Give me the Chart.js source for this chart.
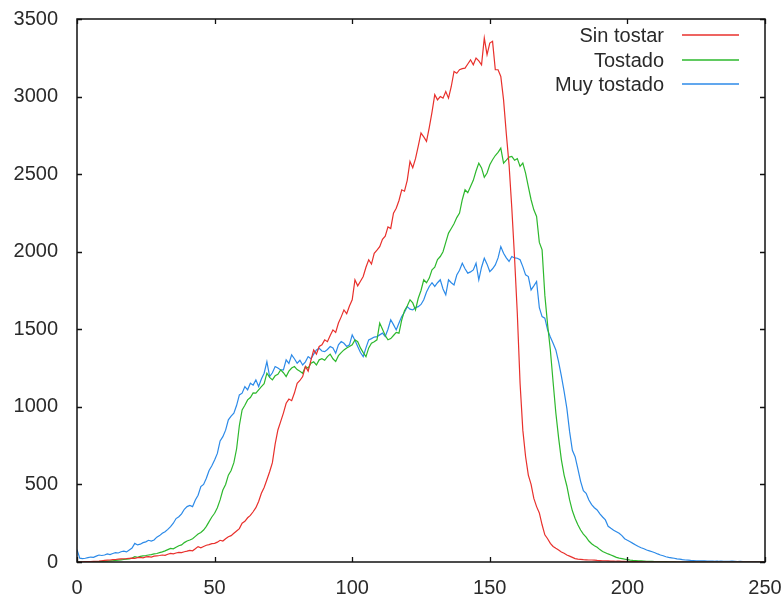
<!DOCTYPE html>
<html>
<head>
<meta charset="utf-8">
<script src="https://cdn.jsdelivr.net/npm/chart.js@4.4.0/dist/chart.umd.min.js"></script>
<style>
  html, body { margin: 0; padding: 0; background: #fff; }
  #wrap { width: 783px; height: 597px; }
</style>
</head>
<body>
<div id="wrap"><canvas id="histChart" width="783" height="597"></canvas></div>
<script>
// Histogram counts per intensity level (0..250)
const sinTostar = [
  0,0,1,2,2,3,4,5,6,8,
  10,12,13,15,16,18,20,21,22,24,
  25,24,28,30,27,33,35,32,38,40,
  42,45,43,50,56,52,58,62,60,66,
  70,75,72,85,99,92,100,108,112,118,
  120,128,140,135,150,163,170,185,200,215,
  250,262,285,300,324,350,390,443,480,530,
  582,640,760,851,905,960,1023,1050,1040,1089,
  1152,1170,1195,1260,1230,1300,1367,1340,1389,1400,
  1432,1420,1460,1496,1480,1540,1580,1625,1600,1650,
  1690,1819,1780,1810,1840,1900,1948,1920,1990,2010,
  2033,2080,2100,2160,2150,2249,2280,2330,2399,2390,
  2460,2582,2541,2600,2680,2765,2740,2711,2800,2900,
  3012,2979,3000,2990,3033,2990,3065,3162,3150,3173,
  3180,3183,3210,3237,3205,3248,3230,3205,3377,3270,
  3345,3356,3173,3173,3130,2979,2760,2560,2280,1960,
  1600,1152,850,680,560,500,410,357,316,240,
  175,150,120,100,88,77,65,56,45,38,
  30,22,19,17,15,14,13,13,12,10,
  9,8,8,7,6,6,5,5,4,4,
  3,3,2,2,2,1,1,1,0,0,
  0,0,0,0,0,0,0,0,0,0,
  0,0,0,0,0,0,0,0,0,0,
  0,0,0,0,0,0,0,0,0,0,
  0,0,0,0,0,0,0,0,0,0,
  0
];

const tostado = [
  0,0,0,1,1,2,2,3,3,4,
  5,6,7,8,10,12,14,16,18,20,
  25,34,30,36,40,42,45,48,52,55,
  60,65,72,80,88,85,95,105,110,125,
  135,142,150,165,180,190,206,230,260,290,
  314,350,400,464,500,560,590,640,730,880,
  980,1010,1045,1060,1090,1088,1110,1131,1150,1217,
  1190,1174,1200,1210,1238,1220,1195,1230,1250,1260,
  1240,1230,1217,1260,1250,1281,1290,1270,1303,1310,
  1300,1324,1340,1310,1292,1330,1350,1367,1380,1389,
  1400,1432,1420,1380,1350,1324,1380,1410,1420,1432,
  1540,1500,1460,1432,1440,1460,1480,1475,1560,1620,
  1650,1690,1670,1625,1700,1750,1819,1800,1830,1883,
  1900,1950,1969,2000,2060,2120,2150,2180,2220,2249,
  2335,2399,2380,2420,2460,2520,2571,2540,2480,2507,
  2560,2593,2620,2640,2668,2571,2590,2610,2614,2590,
  2600,2550,2571,2507,2420,2335,2270,2227,2060,2012,
  1720,1530,1367,1160,960,800,660,560,490,400,
  330,280,240,206,180,160,135,118,105,95,
  80,68,60,52,45,38,30,25,22,18,
  15,12,10,9,8,7,6,5,4,4,
  3,3,2,2,2,1,1,1,0,0,
  0,0,0,0,0,0,0,0,0,0,
  0,0,0,0,0,0,0,0,0,0,
  0,0,0,0,0,0,0,0,0,0,
  0
];

const muyTostado = [
  80,25,22,24,28,32,30,38,45,42,
  45,52,48,55,60,58,66,70,65,78,
  90,120,110,115,125,130,140,135,142,160,
  170,185,195,210,228,250,280,292,310,340,
  357,365,357,400,430,486,500,540,590,620,
  658,700,780,808,850,916,940,959,1010,1077,
  1088,1131,1110,1152,1140,1174,1131,1180,1217,1292,
  1195,1220,1260,1250,1238,1238,1303,1280,1335,1310,
  1281,1300,1270,1290,1324,1310,1340,1367,1378,1360,
  1356,1370,1389,1380,1346,1400,1421,1410,1389,1400,
  1464,1430,1389,1350,1324,1380,1432,1440,1450,1453,
  1464,1475,1453,1500,1561,1530,1496,1540,1582,1610,
  1646,1630,1625,1640,1646,1660,1690,1740,1776,1800,
  1776,1800,1819,1760,1722,1819,1800,1786,1850,1880,
  1926,1890,1862,1870,1883,1926,1819,1900,1958,1920,
  1872,1890,1915,1960,2033,1990,1960,1937,1969,1960,
  1958,1948,1904,1851,1840,1754,1780,1808,1640,1582,
  1572,1496,1450,1410,1367,1290,1200,1100,990,840,
  720,679,600,520,460,443,400,370,350,335,
  310,290,271,230,217,205,195,185,170,150,
  140,131,120,110,100,92,85,77,72,66,
  60,52,45,40,34,30,27,24,20,18,
  15,13,12,10,9,8,8,7,7,6,
  6,6,5,5,6,5,4,4,5,4,
  3,4,3,3,2,3,2,2,1,2,
  1
];

const seriesNames = ['Sin tostar', 'Tostado', 'Muy tostado'];
const seriesColors = ['#e8302c', '#2db82d', '#2c8ae8'];
const xTicks = [0, 50, 100, 150, 200, 250];
const yTicks = [0, 500, 1000, 1500, 2000, 2500, 3000, 3500];

const textColor = '#2a2a2a';
const fontFamily = '"Liberation Sans", Arial, sans-serif';

function toPoints(values) {
  return values.map((v, i) => ({ x: i, y: v }));
}

// gnuplot style frame with inward ticks on all four sides
const framePlugin = {
  id: 'frame',
  afterDatasetsDraw(chart) {
    const { ctx, chartArea: a, scales } = chart;
    const len = 5;
    ctx.save();
    ctx.strokeStyle = '#111';
    ctx.lineWidth = 1.3;
    ctx.beginPath();
    xTicks.forEach(t => {
      const px = Math.round(scales.x.getPixelForValue(t)) + 0.5;
      ctx.moveTo(px, a.bottom); ctx.lineTo(px, a.bottom - len);
      ctx.moveTo(px, a.top); ctx.lineTo(px, a.top + len);
    });
    yTicks.forEach(t => {
      const py = Math.round(scales.y.getPixelForValue(t)) + 0.5;
      ctx.moveTo(a.left, py); ctx.lineTo(a.left + len, py);
      ctx.moveTo(a.right, py); ctx.lineTo(a.right - len, py);
    });
    ctx.stroke();
    ctx.lineWidth = 1.5;
    ctx.strokeRect(a.left, a.top, a.right - a.left, a.bottom - a.top);
    ctx.restore();
  }
};

// key in the top right corner: label right aligned, sample line after it
const keyPlugin = {
  id: 'key',
  afterDraw(chart) {
    const { ctx, chartArea: a } = chart;
    ctx.save();
    ctx.font = '20px ' + fontFamily;
    ctx.textAlign = 'right';
    ctx.textBaseline = 'middle';
    chart.data.datasets.forEach((ds, i) => {
      const y = Math.round(a.top + 16 + i * 24.7);
      ctx.fillStyle = textColor;
      ctx.fillText(ds.label, a.right - 101, y + 1);
      ctx.strokeStyle = ds.borderColor;
      ctx.lineWidth = 1.4;
      ctx.beginPath();
      ctx.moveTo(a.right - 83, y);
      ctx.lineTo(a.right - 26, y);
      ctx.stroke();
    });
    ctx.restore();
  }
};

new Chart(document.getElementById('histChart'), {
  type: 'line',
  data: {
    datasets: [sinTostar, tostado, muyTostado].map((vals, i) => ({
      label: seriesNames[i],
      data: toPoints(vals),
      borderColor: seriesColors[i],
      borderWidth: 1.2,
      pointRadius: 0,
      tension: 0,
      fill: false
    }))
  },
  options: {
    responsive: false,
    animation: false,
    layout: { padding: { top: 19, right: 18, left: 0, bottom: 0 } },
    plugins: { legend: { display: false }, tooltip: { enabled: false } },
    scales: {
      x: {
        type: 'linear',
        min: 0,
        max: 250,
        afterBuildTicks: s => { s.ticks = xTicks.map(v => ({ value: v })); },
        afterFit: s => { s.height = 35; s.paddingLeft = 0; s.paddingRight = 0; },
        grid: { display: false },
        border: { display: false },
        ticks: {
          color: textColor, font: { family: fontFamily, size: 20 }, padding: 6, maxRotation: 0,
          callback: v => String(v)
        }
      },
      y: {
        type: 'linear',
        min: 0,
        max: 3500,
        afterBuildTicks: s => { s.ticks = yTicks.map(v => ({ value: v })); },
        afterFit: s => { s.width = 77; s.paddingTop = 0; s.paddingBottom = 0; },
        grid: { display: false },
        border: { display: false },
        ticks: {
          color: textColor, font: { family: fontFamily, size: 20 }, padding: 11,
          callback: v => String(v)
        }
      }
    }
  },
  plugins: [framePlugin, keyPlugin]
});
</script>
</body>
</html>
